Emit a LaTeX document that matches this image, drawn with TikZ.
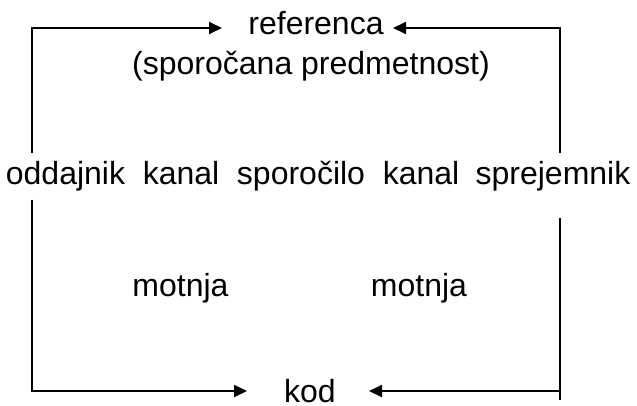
\documentclass[tikz,border=0pt]{standalone}
\usepackage{fontspec}
\setmainfont{Liberation Sans}
\usetikzlibrary{arrows.meta}
\begin{document}
\begin{tikzpicture}[x=1pt,y=-1pt,
  lbl/.style={inner sep=0pt,anchor=base,font=\fontsize{32}{38}\selectfont},
  ln/.style={line width=1.8pt},
  arr/.style={ln,-{Triangle[length=13pt,width=12pt]}}]
\useasboundingbox (0,0) rectangle (637,406);
% text nodes
\node[lbl] (ref) at (316,35) {referenca};
\node[lbl] (pred) at (311,75) {(sporočana predmetnost)};
\node[lbl] (odd) at (65.5,185) {oddajnik};
\node[lbl] (kan1) at (181,185) {kanal};
\node[lbl] (spor) at (301,185) {sporočilo};
\node[lbl] (kan2) at (421,185) {kanal};
\node[lbl] (spre) at (553,185) {sprejemnik};
\node[lbl] (mot1) at (180.5,296) {motnja};
\node[lbl] (mot2) at (419,296) {motnja};
\node[lbl] (kod) at (310,402) {kod};
% corner and end coordinates
\coordinate (lt) at (32,153);
\coordinate (lb) at (32,200);
\coordinate (rt) at (560,153);
\coordinate (rb) at (560,218);
\coordinate (tl) at (32,28);
\coordinate (tr) at (560,28);
\coordinate (bl) at (32,391);
\coordinate (br) at (560,400);
\coordinate (tlend) at (222,28);
\coordinate (trend) at (393,28);
\coordinate (blend) at (247,391);
\coordinate (brend) at (369,391);
% connectors
\draw[arr] (lt) -- (tl) -- (tlend);
\draw[arr] (rt) -- (tr) -- (trend);
\draw[arr] (lb) -- (bl) -- (blend);
\draw[ln] (rb) -- (br);
\draw[arr] (br |- bl) -- (brend);
\end{tikzpicture}
\end{document}
